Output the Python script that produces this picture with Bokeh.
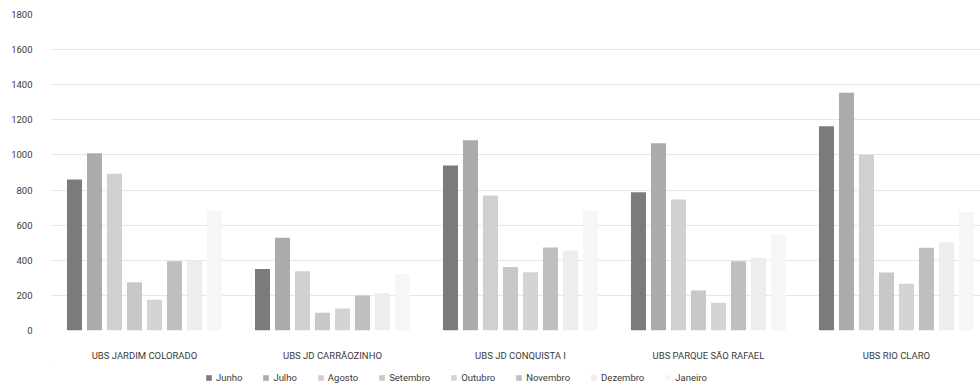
from bokeh.plotting import figure
from bokeh.layouts import column
from bokeh.models import FixedTicker, Legend, LegendItem, ColumnDataSource
from bokeh.embed import file_html
from bokeh.resources import INLINE

# Unidades de saúde (categorias)
units = ["UBS JARDIM COLORADO", "UBS JD CARRÃOZINHO", "UBS JD CONQUISTA I",
         "UBS PARQUE SÃO RAFAEL", "UBS RIO CLARO"]

# Atendimentos por mês
months = ["Junho", "Julho", "Agosto", "Setembro", "Outubro", "Novembro", "Dezembro", "Janeiro"]
junho = [860, 351, 940, 788, 1164]
julho = [1010, 528, 1083, 1067, 1354]
agosto = [893, 338, 769, 746, 1001]
setembro = [275, 101, 361, 228, 330]
outubro = [175, 125, 332, 158, 266]
novembro = [395, 199, 473, 395, 471]
dezembro = [399, 212, 456, 414, 503]
janeiro = [680, 322, 680, 545, 675]
series = [junho, julho, agosto, setembro, outubro, novembro, dezembro, janeiro]

y_ticks = [0, 200, 400, 600, 800, 1000, 1200, 1400, 1600, 1800]

colors = ["#7b7b7b", "#ababab", "#d0d0d0", "#c8c8c8", "#d4d4d4", "#bfbfbf", "#ededed", "#f6f6f6"]

FONT = "Roboto"
TEXT = "#3a3a3a"

p = figure(width=980, height=363, output_backend="svg", toolbar_location=None,
           x_range=(0, 4.947), y_range=(0, 1800),
           min_border_left=50, min_border_right=0, min_border_top=14, min_border_bottom=33)
p.outline_line_color = None
p.background_fill_color = "white"

step = 20 / 188
bar_w = 15 / 188
for j, (name, vals, col) in enumerate(zip(months, series, colors)):
    src = ColumnDataSource(dict(x=[i + 0.5 + (j - 3.5) * step for i in range(len(units))], top=vals))
    p.vbar(x="x", top="top", width=bar_w, source=src, fill_color=col, line_color=None)

p.xaxis.ticker = FixedTicker(ticks=[i + 0.5 for i in range(len(units))])
p.xaxis.major_label_overrides = {i + 0.5: u for i, u in enumerate(units)}
p.yaxis.ticker = FixedTicker(ticks=y_ticks)

for ax in (p.xaxis, p.yaxis):
    ax.axis_line_color = None
    ax.major_tick_line_color = None
    ax.minor_tick_line_color = None
    ax.major_label_text_font = FONT
    ax.major_label_text_font_size = "9.5px"
    ax.major_label_text_color = TEXT
p.yaxis.major_label_standoff = 12
p.xaxis.major_label_standoff = 13

p.xgrid.grid_line_color = None
p.ygrid.grid_line_color = "#e6e6e6"
p.ygrid.grid_line_width = 1

# Strip under the chart that carries the month legend
leg = figure(width=980, height=24, output_backend="svg", toolbar_location=None,
             x_range=(0, 1), y_range=(0, 1),
             min_border_left=0, min_border_right=0, min_border_top=0, min_border_bottom=0)
leg.axis.visible = False
leg.xaxis.axis_line_color = None
leg.yaxis.axis_line_color = None
leg.grid.visible = False
leg.outline_line_color = None
leg.border_fill_color = "white"

items = []
for name, col in zip(months, colors):
    # swatch renderers sit well outside the visible ranges; only their legend icons show
    r = leg.vbar(x=[-5], bottom=[5], top=[6], width=0.1, fill_color=col, line_color=None)
    items.append(LegendItem(label=name, renderers=[r]))

legend = Legend(items=items, orientation="horizontal", location=(155, 4),
                glyph_width=7, glyph_height=7, spacing=20, label_standoff=4,
                label_text_font=FONT, label_text_font_size="9.5px", label_text_color=TEXT,
                label_height=10, border_line_color=None, background_fill_alpha=0,
                padding=0, margin=0)
leg.add_layout(legend)

layout = column(p, leg, spacing=0)
open("out.html", "w").write(file_html(layout, INLINE))
